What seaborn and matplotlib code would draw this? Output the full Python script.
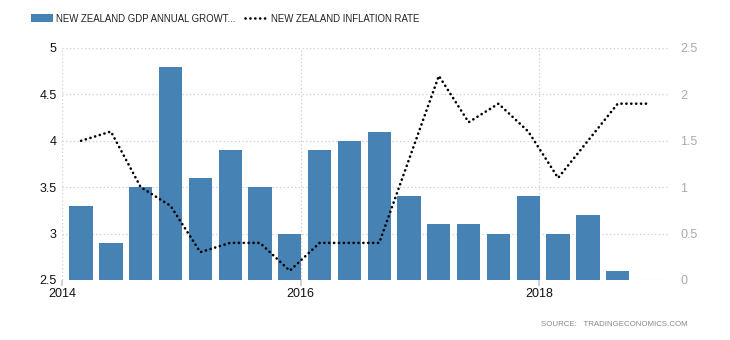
import matplotlib
matplotlib.use("Agg")
import matplotlib.pyplot as plt
import seaborn as sns
import pandas as pd
import numpy as np
from matplotlib.patches import Patch
from matplotlib.lines import Line2D

# ---- data ----
gdp_quarters = ["2014Q1", "2014Q2", "2014Q3", "2014Q4", "2015Q1", "2015Q2", "2015Q3", "2015Q4",
                "2016Q1", "2016Q2", "2016Q3", "2016Q4", "2017Q1", "2017Q2", "2017Q3", "2017Q4",
                "2018Q1", "2018Q2", "2018Q3"]
gdp_growth = [3.3, 2.9, 3.5, 4.8, 3.6, 3.9, 3.5, 3.0, 3.9, 4.0, 4.1, 3.4, 3.1, 3.1, 3.0, 3.4, 3.0, 3.2, 2.6]

cpi_quarters = gdp_quarters + ["2018Q4"]
inflation = [1.5, 1.6, 1.0, 0.8, 0.3, 0.4, 0.4, 0.1, 0.4, 0.4, 0.4, 1.3, 2.2, 1.7, 1.9, 1.6, 1.1, 1.5, 1.9, 1.9]

year_ticks = [2014, 2016, 2018]
left_ticks = [2.5, 3, 3.5, 4, 4.5, 5]
right_ticks = [0, 0.5, 1, 1.5, 2, 2.5]
gdp_label = "NEW ZEALAND GDP ANNUAL GROWT..."
cpi_label = "NEW ZEALAND INFLATION RATE"
source_text = "SOURCE:   TRADINGECONOMICS.COM"


def qpos(q):
    y, k = q.split("Q")
    return int(y) + (int(k) - 1) * 0.25 + 0.16


df_gdp = pd.DataFrame({"x": [qpos(q) for q in gdp_quarters], "v": gdp_growth})
df_cpi = pd.DataFrame({"x": [qpos(q) for q in cpi_quarters], "v": inflation})

sns.set_theme(style="white")
plt.rcParams["font.family"] = ["Liberation Sans", "DejaVu Sans"]

fig = plt.figure(figsize=(7.3, 3.4), dpi=100)
ax = fig.add_axes([62 / 730, 1 - 280 / 340, (669 - 62) / 730, (280 - 48) / 340])

bar_color = "#4682b4"
sns.barplot(data=df_gdp, x="x", y="v", native_scale=True, width=0.78, color=bar_color,
            saturation=1, ax=ax, zorder=2, edgecolor="none", linewidth=0)
ax.set_ylim(2.5, 5)
ax.set_xlim(2014, 2019.09)
ax.set_yticks(left_ticks)
ax.set_yticklabels([f"{t:g}" for t in left_ticks])
ax.set_xticks(year_ticks)
ax.set_xticklabels([str(t) for t in year_ticks])
ax.set_xlabel("")
ax.set_ylabel("")
for s in ax.spines.values():
    s.set_visible(False)
ax.grid(True, axis="both", color="#cccccc", linestyle=(0, (1, 2)), linewidth=0.9, zorder=0)
ax.set_axisbelow(True)
ax.tick_params(axis="y", length=0, labelsize=9, labelcolor="#111111", pad=4)
ax.tick_params(axis="x", length=4, color="#cccccc", labelsize=9, labelcolor="#111111", pad=2,
               direction="out", bottom=True)

dot_style = (0, (0.05, 1.8))
ax2 = ax.twinx()
sns.lineplot(data=df_cpi, x="x", y="v", ax=ax2, color="black", linewidth=1.9,
             linestyle=dot_style, zorder=3)
ax2.lines[0].set_dash_capstyle("round")
ax2.set_ylim(0, 2.5)
ax2.set_yticks(right_ticks)
ax2.set_yticklabels([f"{t:g}" for t in right_ticks])
ax2.set_xlim(2014, 2019.09)
ax2.set_ylabel("")
ax2.set_xlabel("")
for s in ax2.spines.values():
    s.set_visible(False)
ax2.tick_params(axis="y", length=0, labelsize=9, labelcolor="#aaaaaa", pad=8)

leg_line = Line2D([], [], color="black", linewidth=1.9, linestyle=dot_style)
leg_line.set_dash_capstyle("round")
handles = [Patch(facecolor=bar_color, edgecolor="none"), leg_line]
leg = fig.legend(handles, [gdp_label, cpi_label], loc="upper left", bbox_to_anchor=(0.03, 0.985),
                 ncol=2, frameon=False, fontsize=6.9, handlelength=2.3, handleheight=0.9,
                 columnspacing=1.0, handletextpad=0.4, labelcolor="#222222")

fig.text(688 / 730, 1 - 325 / 340, source_text, ha="right", va="center", fontsize=5.7,
         color="#888888")

fig.savefig("out.png", dpi=100)
